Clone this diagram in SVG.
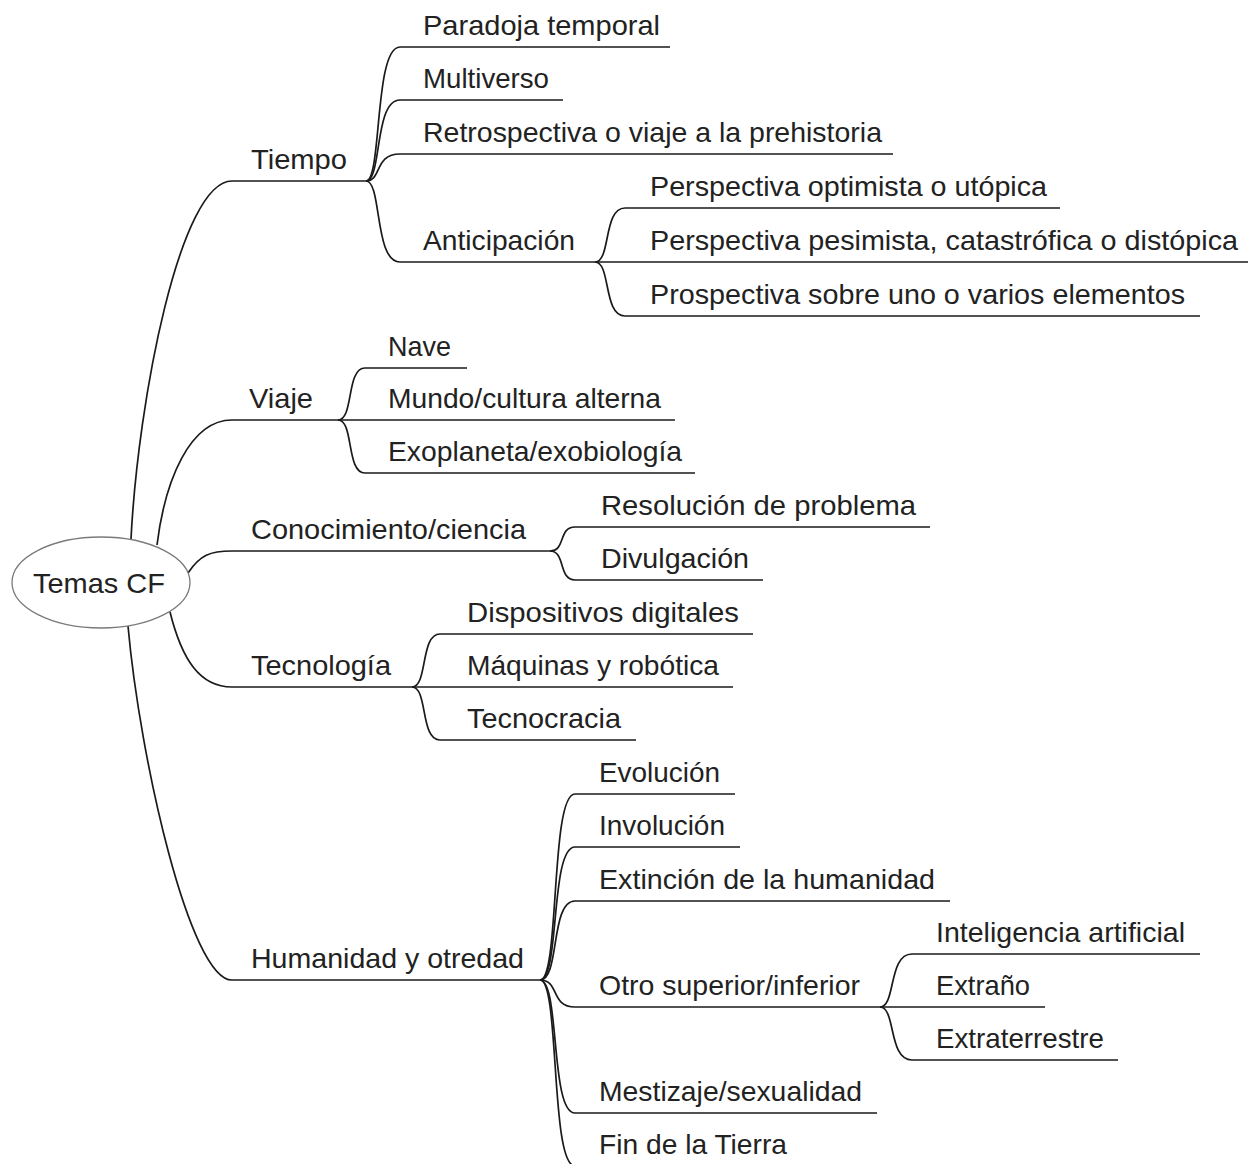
<svg xmlns="http://www.w3.org/2000/svg" width="1248" height="1164" viewBox="0 0 1248 1164">
<style>
.c{fill:none;stroke:#1a1a1a;stroke-width:1.7}
text{font-family:"Liberation Sans",Arial,sans-serif;font-size:28.5px;fill:#222}
</style>
<rect width="1248" height="1164" fill="#fff"/>
<g id="connectors">
<path class="c" d="M131,539 C138,400 180,181 232,181 L366,181"/>
<path class="c" d="M157,545 C165,480 190,420 232,420 L338,420"/>
<path class="c" d="M188,573 C200,555 210,551 232,551 L550,551"/>
<path class="c" d="M170,612 C182,660 200,687 232,687 L412,687"/>
<path class="c" d="M128,626 C140,760 190,980 232,980 L540,980"/>
<path class="c" d="M366,181 C382,181 374,47 400,47 L670,47"/>
<path class="c" d="M366,181 C382,181 374,100 400,100 L563,100"/>
<path class="c" d="M366,181 C382,181 374,154 400,154 L893,154"/>
<path class="c" d="M366,181 C382,181 374,262 400,262 L595,262"/>
<path class="c" d="M595,262 C611,262 603,208 625,208 L1060,208"/>
<path class="c" d="M595,262 L1248,262"/>
<path class="c" d="M595,262 C611,262 603,316 625,316 L1200,316"/>
<path class="c" d="M338,420 C354,420 346,368 365,368 L467,368"/>
<path class="c" d="M338,420 L675,420"/>
<path class="c" d="M338,420 C354,420 346,473 365,473 L695,473"/>
<path class="c" d="M550,551 C566,551 558,527 575,527 L930,527"/>
<path class="c" d="M550,551 C566,551 558,580 575,580 L763,580"/>
<path class="c" d="M412,687 C428,687 420,634 440,634 L753,634"/>
<path class="c" d="M412,687 L733,687"/>
<path class="c" d="M412,687 C428,687 420,740 440,740 L636,740"/>
<path class="c" d="M540,980 C560,980 550,794 575,794 L735,794"/>
<path class="c" d="M540,980 C560,980 550,847 575,847 L740,847"/>
<path class="c" d="M540,980 C560,980 550,901 575,901 L950,901"/>
<path class="c" d="M540,980 C560,980 550,1007 575,1007 L880,1007"/>
<path class="c" d="M540,980 C560,980 550,1113 575,1113 L877,1113"/>
<path class="c" d="M540,980 C560,980 550,1166 575,1166 L800,1166"/>
<path class="c" d="M880,1007 C896,1007 888,954 912,954 L1200,954"/>
<path class="c" d="M880,1007 L1045,1007"/>
<path class="c" d="M880,1007 C896,1007 888,1060 912,1060 L1118,1060"/>
</g>
<g id="root">
<ellipse cx="101" cy="582.5" rx="89" ry="45.5" fill="#fff" stroke="#7a7a7a" stroke-width="1.3"/>
<text x="33" y="593" textLength="132" lengthAdjust="spacingAndGlyphs">Temas CF</text>
</g>
<g id="tiempo"><text x="251" y="169" textLength="96" lengthAdjust="spacingAndGlyphs">Tiempo</text></g>
<g id="paradoja"><text x="423" y="35" textLength="237" lengthAdjust="spacingAndGlyphs">Paradoja temporal</text></g>
<g id="multiverso"><text x="423" y="88" textLength="126" lengthAdjust="spacingAndGlyphs">Multiverso</text></g>
<g id="retrospectiva"><text x="423" y="142" textLength="459" lengthAdjust="spacingAndGlyphs">Retrospectiva o viaje a la prehistoria</text></g>
<g id="anticipacion"><text x="423" y="250" textLength="152" lengthAdjust="spacingAndGlyphs">Anticipación</text></g>
<g id="optimista"><text x="650" y="196" textLength="397" lengthAdjust="spacingAndGlyphs">Perspectiva optimista o utópica</text></g>
<g id="pesimista"><text x="650" y="250" textLength="588" lengthAdjust="spacingAndGlyphs">Perspectiva pesimista, catastrófica o distópica</text></g>
<g id="prospectiva"><text x="650" y="304" textLength="535" lengthAdjust="spacingAndGlyphs">Prospectiva sobre uno o varios elementos</text></g>
<g id="viaje"><text x="249" y="408" textLength="64" lengthAdjust="spacingAndGlyphs">Viaje</text></g>
<g id="nave"><text x="388" y="356" textLength="63" lengthAdjust="spacingAndGlyphs">Nave</text></g>
<g id="mundo"><text x="388" y="408" textLength="273" lengthAdjust="spacingAndGlyphs">Mundo/cultura alterna</text></g>
<g id="exoplaneta"><text x="388" y="461" textLength="294" lengthAdjust="spacingAndGlyphs">Exoplaneta/exobiología</text></g>
<g id="conocimiento"><text x="251" y="539" textLength="275" lengthAdjust="spacingAndGlyphs">Conocimiento/ciencia</text></g>
<g id="resolucion"><text x="601" y="515" textLength="315" lengthAdjust="spacingAndGlyphs">Resolución de problema</text></g>
<g id="divulgacion"><text x="601" y="568" textLength="148" lengthAdjust="spacingAndGlyphs">Divulgación</text></g>
<g id="tecnologia"><text x="251" y="675" textLength="140" lengthAdjust="spacingAndGlyphs">Tecnología</text></g>
<g id="dispositivos"><text x="467" y="622" textLength="272" lengthAdjust="spacingAndGlyphs">Dispositivos digitales</text></g>
<g id="maquinas"><text x="467" y="675" textLength="252" lengthAdjust="spacingAndGlyphs">Máquinas y robótica</text></g>
<g id="tecnocracia"><text x="467" y="728" textLength="154" lengthAdjust="spacingAndGlyphs">Tecnocracia</text></g>
<g id="humanidad"><text x="251" y="968" textLength="273" lengthAdjust="spacingAndGlyphs">Humanidad y otredad</text></g>
<g id="evolucion"><text x="599" y="782" textLength="121" lengthAdjust="spacingAndGlyphs">Evolución</text></g>
<g id="involucion"><text x="599" y="835" textLength="126" lengthAdjust="spacingAndGlyphs">Involución</text></g>
<g id="extincion"><text x="599" y="889" textLength="336" lengthAdjust="spacingAndGlyphs">Extinción de la humanidad</text></g>
<g id="otro"><text x="599" y="995" textLength="261" lengthAdjust="spacingAndGlyphs">Otro superior/inferior</text></g>
<g id="ia"><text x="936" y="942" textLength="249" lengthAdjust="spacingAndGlyphs">Inteligencia artificial</text></g>
<g id="extrano"><text x="936" y="995" textLength="94" lengthAdjust="spacingAndGlyphs">Extraño</text></g>
<g id="extraterrestre"><text x="936" y="1048" textLength="168" lengthAdjust="spacingAndGlyphs">Extraterrestre</text></g>
<g id="mestizaje"><text x="599" y="1101" textLength="263" lengthAdjust="spacingAndGlyphs">Mestizaje/sexualidad</text></g>
<g id="fin"><text x="599" y="1154" textLength="188" lengthAdjust="spacingAndGlyphs">Fin de la Tierra</text></g>
</svg>
